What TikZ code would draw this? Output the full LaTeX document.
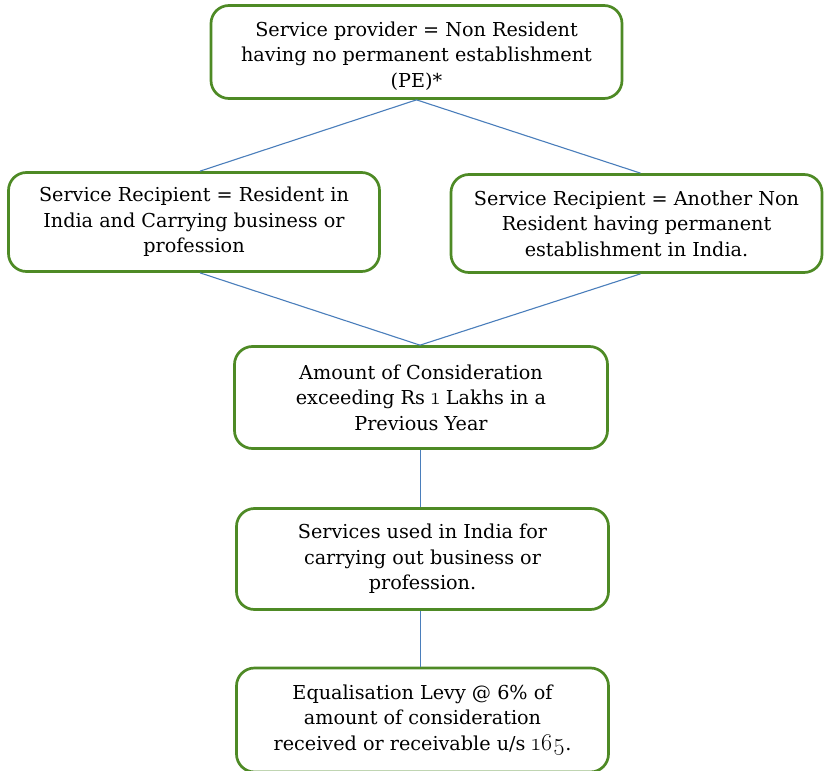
\documentclass[tikz,border=0pt]{standalone}
\usepackage{fontspec}
\setmainfont{DejaVu Serif}
\newfontfamily\lmfamily[Scale=1.25]{Latin Modern Roman}
\newcommand{\osnum}[1]{{\lmfamily\oldstylenums{#1}}}
\definecolor{boxgreen}{HTML}{4E8A25}
\definecolor{linkblue}{HTML}{4A7EBB}
\tikzset{
  boxtext/.style={align=center, inner sep=0pt, font=\fontsize{19.2}{25.5}\selectfont},
  flowbox/.style={boxtext, draw=boxgreen, line width=2.7pt, rounded corners=18pt, fill=white},
  link/.style={draw=linkblue, line width=1.1pt}
}
\begin{document}
\begin{tikzpicture}[x=1pt,y=-1pt]
\useasboundingbox (0,0) rectangle (828,771);
\fill[white] (0,0) rectangle (828,771);

% top box: text sits a little below the box centre
\node[flowbox, minimum width=411, minimum height=93] (prov) at (416.5,52) {};
\node[boxtext] (provtext) at ([yshift=-4pt]prov.center)
  {Service provider = Non Resident\\having no permanent establishment\\(PE)*};
\node[flowbox, minimum width=371, minimum height=99] (resid) at (194,222)
  {Service Recipient = Resident in\\India and Carrying business or\\profession};
\node[flowbox, minimum width=371, minimum height=98] (nonres) at (636.5,223.5)
  {Service Recipient = Another Non\\Resident having permanent\\establishment in India.};
\node[flowbox, minimum width=373, minimum height=102] (amount) at (421,397.5)
  {Amount of Consideration\\exceeding Rs \osnum{1} Lakhs in a\\Previous Year};
\node[flowbox, minimum width=372, minimum height=101] (used) at (422.5,559)
  {Services used in India for\\carrying out business or\\profession.};
\node[flowbox, minimum width=372, minimum height=104] (levy) at (422.5,720)
  {Equalisation Levy @ 6\% of\\amount of consideration\\received or receivable u/s \osnum{165}.};

\draw[link] (prov.south) -- ([xshift=6pt]resid.north);
\draw[link] (prov.south) -- ([xshift=4pt]nonres.north);
\draw[link] ([xshift=6pt]resid.south) -- ([xshift=-1pt]amount.north);
\draw[link] ([xshift=4pt]nonres.south) -- ([xshift=-1pt]amount.north);
\draw[link] ([xshift=-0.5pt]amount.south) -- ([xshift=-2pt]used.north);
\draw[link] ([xshift=-2pt]used.south) -- ([xshift=-2pt]levy.north);
\end{tikzpicture}
\end{document}
